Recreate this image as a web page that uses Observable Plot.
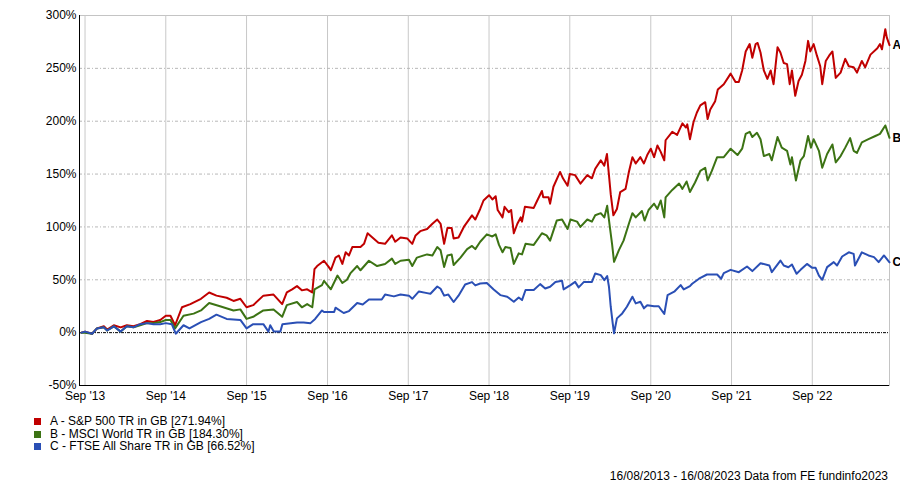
<!DOCTYPE html>
<html><head><meta charset="utf-8">
<script src="https://cdn.jsdelivr.net/npm/d3@7"></script>
<script src="https://cdn.jsdelivr.net/npm/@observablehq/plot@0.6"></script>
<style>
body{margin:0;background:#fff;font-family:"Liberation Sans",Arial,sans-serif;color:#000;}
#wrap{position:relative;width:900px;height:484px;overflow:hidden;}
#chart{position:absolute;left:0;top:0;}
.row{position:absolute;left:34px;height:13px;font-size:12px;line-height:13px;white-space:nowrap;}
.sw{position:absolute;left:0;top:3px;width:7px;height:7px;}
.lt{position:absolute;left:16px;top:0;}
#foot{position:absolute;right:12px;top:469px;font-size:12px;line-height:14px;white-space:nowrap;}
</style></head><body>
<div id="wrap"><div id="chart"></div><div id="legend"></div><div id="foot"></div></div>
<script>
const seriesNames = ["A - S&P 500 TR in GB [271.94%]", "B - MSCI World TR in GB [184.30%]", "C - FTSE All Share TR in GB [66.52%]"];
const seriesLetters = ["A", "B", "C"];
const seriesColors = ["#c00000", "#3c7314", "#2a4fb5"];
const yTicks = [-50, 0, 50, 100, 150, 200, 250, 300];
const xTicks = ["2013-09-01","2014-09-01","2015-09-01","2016-09-01","2017-09-01","2018-09-01","2019-09-01","2020-09-01","2021-09-01","2022-09-01"];
const dateRange = ["2013-08-16", "2023-08-16"];
const footerText = "16/08/2013 - 16/08/2023 Data from FE fundinfo2023";

const seriesA = [
["2013-08-16",0],["2013-09-01",1],["2013-10-03",-1],["2013-10-25",4],["2013-11-25",6],["2013-12-10",3],["2014-01-09",7],["2014-02-09",5],["2014-03-09",7],["2014-04-08",6],["2014-05-08",8],["2014-06-08",11],["2014-07-07",10],["2014-08-07",12],["2014-09-01",16],["2014-09-22",16],["2014-10-13",7],["2014-11-13",24],["2014-12-21",27],["2015-02-07",32],["2015-03-16",38],["2015-04-18",35],["2015-06-03",33],["2015-07-04",30],["2015-08-04",32],["2015-09-01",24],["2015-10-01",26],["2015-11-16",35],["2016-01-01",36],["2016-02-09",27],["2016-03-01",38],["2016-03-25",41],["2016-04-16",44],["2016-05-08",40],["2016-06-01",41],["2016-06-24",38],["2016-07-04",60],["2016-07-16",63],["2016-08-16",68],["2016-09-07",62],["2016-09-16",59],["2016-10-07",71],["2016-10-22",73],["2016-11-07",65],["2016-11-22",76],["2016-12-07",73],["2016-12-22",81],["2017-01-28",81],["2017-02-13",84],["2017-03-01",94],["2017-03-28",89],["2017-04-19",85],["2017-05-19",84],["2017-06-19",92],["2017-07-04",86],["2017-07-28",90],["2017-08-28",89],["2017-09-19",84],["2017-10-04",92],["2017-10-25",96],["2017-11-25",98],["2017-12-19",103],["2018-01-10",107],["2018-01-25",103],["2018-02-10",84],["2018-02-25",99],["2018-03-16",99],["2018-03-25",89],["2018-04-16",90],["2018-05-10",100],["2018-06-16",111],["2018-07-01",107],["2018-07-23",117],["2018-08-07",125],["2018-09-01",130],["2018-09-16",126],["2018-10-01",129],["2018-10-10",116],["2018-11-01",109],["2018-11-10",119],["2018-11-29",114],["2018-12-10",116],["2018-12-22",94],["2019-01-07",103],["2019-01-22",109],["2019-01-28",105],["2019-02-10",119],["2019-03-22",118],["2019-04-07",125],["2019-04-28",134],["2019-05-04",128],["2019-05-28",128],["2019-06-04",122],["2019-06-19",138],["2019-07-19",152],["2019-08-01",146],["2019-08-22",139],["2019-09-01",150],["2019-09-25",149],["2019-10-19",141],["2019-11-19",149],["2019-12-10",146],["2019-12-25",155],["2020-01-19",163],["2020-02-04",158],["2020-02-16",169],["2020-02-25",149],["2020-03-04",131],["2020-03-16",111],["2020-04-01",117],["2020-04-16",133],["2020-05-10",136],["2020-05-25",152],["2020-06-10",166],["2020-06-25",160],["2020-07-16",166],["2020-08-01",160],["2020-08-16",168],["2020-09-01",174],["2020-09-16",166],["2020-10-01",177],["2020-10-16",171],["2020-11-01",163],["2020-11-07",182],["2020-12-07",190],["2020-12-29",187],["2021-01-22",198],["2021-02-07",194],["2021-02-13",197],["2021-02-25",183],["2021-03-13",199],["2021-03-28",208],["2021-04-13",215],["2021-05-05",218],["2021-05-16",202],["2021-05-28",211],["2021-06-19",219],["2021-07-01",230],["2021-07-28",235],["2021-08-28",245],["2021-09-19",237],["2021-10-04",237],["2021-10-19",248],["2021-11-04",266],["2021-11-22",273],["2021-12-04",260],["2021-12-19",273],["2021-12-28",274],["2022-01-10",265],["2022-01-25",248],["2022-02-10",240],["2022-02-25",248],["2022-03-10",235],["2022-03-28",270],["2022-04-10",265],["2022-04-25",255],["2022-05-10",254],["2022-05-22",235],["2022-06-01",248],["2022-06-16",224],["2022-07-01",238],["2022-07-16",244],["2022-08-01",257],["2022-08-13",276],["2022-08-23",266],["2022-09-07",273],["2022-09-22",262],["2022-10-07",252],["2022-10-16",235],["2022-11-01",257],["2022-11-16",262],["2022-12-01",266],["2022-12-16",241],["2023-01-07",246],["2023-01-28",259],["2023-02-13",252],["2023-03-07",251],["2023-03-22",246],["2023-04-13",257],["2023-04-28",251],["2023-05-22",263],["2023-06-22",269],["2023-07-04",273],["2023-07-13",268],["2023-07-28",287],["2023-08-04",279],["2023-08-16",271.94]
];
const seriesB = [
["2013-08-16",0],["2013-09-01",0],["2013-10-03",-1],["2013-10-25",4],["2013-11-25",5],["2013-12-10",2],["2014-01-09",6],["2014-02-09",1],["2014-03-09",6],["2014-04-08",5],["2014-05-08",7],["2014-06-08",9],["2014-07-07",9],["2014-08-07",10],["2014-09-01",12],["2014-09-22",12],["2014-10-13",4],["2014-11-20",16],["2015-01-05",18],["2015-02-07",21],["2015-03-16",28],["2015-05-04",25],["2015-07-04",21],["2015-08-04",22],["2015-09-01",13],["2015-10-01",15],["2015-11-16",21],["2016-01-01",22],["2016-02-09",15],["2016-03-01",26],["2016-04-16",29],["2016-05-08",24],["2016-06-01",27],["2016-06-24",24],["2016-07-04",41],["2016-08-07",45],["2016-08-16",49],["2016-09-16",41],["2016-10-16",54],["2016-11-07",47],["2016-11-28",50],["2016-12-13",56],["2017-01-13",63],["2017-01-28",59],["2017-03-07",68],["2017-04-13",63],["2017-05-19",65],["2017-06-19",70],["2017-07-04",65],["2017-07-28",68],["2017-09-04",69],["2017-09-19",63],["2017-10-10",71],["2017-11-25",74],["2017-12-19",73],["2018-01-10",81],["2018-01-25",78],["2018-02-10",62],["2018-02-25",73],["2018-03-16",74],["2018-03-25",64],["2018-04-25",71],["2018-05-25",79],["2018-06-16",82],["2018-07-01",79],["2018-07-23",86],["2018-08-22",93],["2018-09-16",91],["2018-10-01",93],["2018-10-16",83],["2018-11-01",76],["2018-11-14",81],["2018-12-07",80],["2018-12-22",65],["2019-01-13",75],["2019-01-28",74],["2019-02-13",84],["2019-03-22",83],["2019-04-28",94],["2019-05-19",92],["2019-06-04",87],["2019-07-04",106],["2019-07-28",107],["2019-08-22",98],["2019-09-04",107],["2019-10-04",105],["2019-10-19",100],["2019-11-19",107],["2019-12-10",105],["2019-12-25",111],["2020-01-19",113],["2020-02-04",109],["2020-02-17",120],["2020-02-29",100],["2020-03-10",84],["2020-03-19",67],["2020-04-10",78],["2020-05-01",87],["2020-05-25",103],["2020-06-10",113],["2020-06-25",109],["2020-07-23",115],["2020-08-04",106],["2020-08-22",116],["2020-09-16",122],["2020-10-01",117],["2020-10-16",125],["2020-11-01",109],["2020-11-07",128],["2020-12-07",135],["2021-01-07",141],["2021-01-22",136],["2021-02-10",143],["2021-02-25",133],["2021-03-20",142],["2021-04-13",153],["2021-05-05",156],["2021-05-16",144],["2021-06-04",153],["2021-06-28",166],["2021-07-28",166],["2021-08-28",174],["2021-09-28",168],["2021-10-19",174],["2021-11-04",188],["2021-11-22",190],["2021-12-04",185],["2021-12-25",189],["2022-01-10",183],["2022-01-25",167],["2022-02-19",169],["2022-03-02",163],["2022-03-28",185],["2022-04-16",175],["2022-05-10",172],["2022-05-25",159],["2022-06-01",166],["2022-06-19",144],["2022-07-10",163],["2022-07-25",167],["2022-08-13",186],["2022-08-26",175],["2022-09-07",183],["2022-10-01",172],["2022-10-16",156],["2022-11-07",169],["2022-12-01",178],["2022-12-16",161],["2023-01-07",167],["2023-01-28",175],["2023-02-19",184],["2023-03-07",172],["2023-03-22",170],["2023-04-13",180],["2023-05-13",183],["2023-06-13",186],["2023-07-04",188],["2023-07-28",196],["2023-08-16",184.3]
];
const seriesC = [
["2013-08-16",0],["2013-09-01",1],["2013-10-03",-1],["2013-10-25",4],["2013-11-25",5],["2013-12-10",2],["2014-01-09",6],["2014-02-09",1],["2014-03-09",6],["2014-04-08",5],["2014-05-08",8],["2014-06-08",9],["2014-07-07",8],["2014-08-07",8],["2014-09-01",9],["2014-09-28",8],["2014-10-16",-1],["2014-11-20",7],["2014-12-17",4],["2015-02-07",10],["2015-03-16",13],["2015-04-18",17],["2015-06-03",13],["2015-08-04",12],["2015-09-01",4],["2015-10-01",8],["2015-11-16",8],["2015-12-09",1],["2015-12-17",7],["2016-01-02",1],["2016-02-01",1],["2016-02-10",8],["2016-04-16",9.5],["2016-05-16",9.5],["2016-06-16",9],["2016-07-07",13],["2016-08-07",21],["2016-08-16",19.5],["2016-09-01",19.5],["2016-10-01",19.5],["2016-10-07",23.6],["2016-11-13",18.6],["2016-12-07",20.4],["2017-01-13",28],["2017-02-07",26.7],["2017-03-07",31.4],["2017-05-04",31.4],["2017-05-19",36],["2017-06-28",34.3],["2017-07-28",36],["2017-09-04",35],["2017-09-19",32],["2017-10-19",39],["2017-11-25",37.4],["2017-12-10",36.8],["2018-01-10",43.7],["2018-01-25",41.5],["2018-02-10",35],["2018-03-01",36],["2018-03-25",29],["2018-04-16",35],["2018-05-16",45.6],["2018-06-16",47.8],["2018-07-01",44.7],["2018-07-23",46.5],["2018-08-22",47],["2018-09-22",40.9],["2018-10-22",35.5],["2018-11-22",34],["2018-12-22",29.2],["2019-01-13",33.3],["2019-01-28",30.8],["2019-02-13",40.3],["2019-03-22",40.3],["2019-04-20",45.9],["2019-05-13",41.8],["2019-06-04",43.4],["2019-06-28",48],["2019-07-28",49],["2019-08-04",40.9],["2019-09-04",45],["2019-09-25",48],["2019-10-11",42.8],["2019-11-04",48],["2019-12-10",48],["2019-12-25",56],["2020-01-19",54.4],["2020-02-04",49.7],["2020-02-17",53.5],["2020-02-25",43.4],["2020-03-04",24.5],["2020-03-13",8.8],["2020-03-19",-0.6],["2020-04-01",13.5],["2020-04-25",18.2],["2020-05-16",24.5],["2020-06-10",34],["2020-06-25",27.7],["2020-07-16",29.2],["2020-08-01",23],["2020-08-16",26],["2020-09-16",25],["2020-10-07",25],["2020-11-01",17.6],["2020-11-16",35.5],["2020-12-16",38.7],["2021-01-14",45],["2021-01-28",40.9],["2021-02-25",44],["2021-03-07",46.2],["2021-04-07",51],["2021-05-13",55],["2021-06-28",55],["2021-07-16",51],["2021-07-28",56.3],["2021-08-28",59.4],["2021-10-04",57.2],["2021-11-10",62.6],["2021-12-04",58.2],["2022-01-10",65.7],["2022-02-19",63.5],["2022-03-02",57.2],["2022-04-10",68.2],["2022-04-25",63.5],["2022-05-16",61.9],["2022-06-01",64.5],["2022-06-22",55.7],["2022-07-10",59.4],["2022-08-08",65],["2022-09-01",61.3],["2022-09-16",61.3],["2022-10-01",54],["2022-10-16",50],["2022-11-07",62],["2022-12-07",66.7],["2022-12-22",63.5],["2023-01-14",72],["2023-02-13",76],["2023-03-07",74.5],["2023-03-13",63.5],["2023-04-13",76],["2023-05-13",73],["2023-06-07",71.4],["2023-06-28",66.7],["2023-07-22",73],["2023-08-16",66.52]
];

const parse = d3.utcParse("%Y-%m-%d");
const allSeries = [seriesA, seriesB, seriesC].map((s, i) =>
  s.map(([d, v]) => ({date: parse(d), value: v, key: seriesLetters[i]})));
const lastPoints = allSeries.map(s => s[s.length - 1]);
const xTickDates = xTicks.map(parse);
const domain = dateRange.map(parse);
const fontFamily = "'Liberation Sans', Arial, sans-serif";

const chart = Plot.plot({
  width: 900,
  height: 405,
  marginLeft: 79,
  marginRight: 11,
  marginTop: 15,
  marginBottom: 20,
  style: {fontFamily, fontSize: "12px", color: "#000", background: "#fff", overflow: "visible"},
  x: {type: "utc", domain, insetLeft: 2, label: null},
  y: {domain: [-50, 300], label: null},
  marks: [
    Plot.frame({stroke: "#c4c4c4"}),
    Plot.ruleX(xTickDates, {stroke: "#c8c8c8", strokeWidth: 1}),
    Plot.ruleY(yTicks.filter(v => v > 0 && v < 300), {stroke: "#b8b8b8", strokeDasharray: "3,2,1,2"}),
    Plot.ruleY([0], {stroke: "#000", strokeDasharray: "3,1,1,1"}),
    Plot.ruleY([-50], {stroke: "#000"}),
    Plot.ruleX([domain[0]], {stroke: "#000", dx: -2}),
    ...allSeries.map((s, i) => Plot.line(s, {x: "date", y: "value", stroke: seriesColors[i], strokeWidth: 2})),
    Plot.text(lastPoints, {x: "date", y: "value", text: "key", textAnchor: "start", dx: 3, fontWeight: "bold", fontSize: 12, fill: "#000"}),
    Plot.axisY({ticks: yTicks, tickSize: 0, tickPadding: 3, tickFormat: d => d + "%", label: null}),
    Plot.axisX({ticks: xTickDates, tickSize: 0, tickPadding: 6, tickFormat: d3.utcFormat("%b '%y"), label: null})
  ]
});
document.getElementById("chart").appendChild(chart);

const legend = document.getElementById("legend");
const rowTops = [414.5, 427.5, 440];
seriesNames.forEach((name, i) => {
  const row = document.createElement("div");
  row.className = "row";
  row.style.top = rowTops[i] + "px";
  row.innerHTML = `<span class="sw" style="background:${seriesColors[i]}"></span><span class="lt"></span>`;
  row.querySelector(".lt").textContent = name;
  legend.appendChild(row);
});
document.getElementById("foot").textContent = footerText;
</script>
</body></html>
